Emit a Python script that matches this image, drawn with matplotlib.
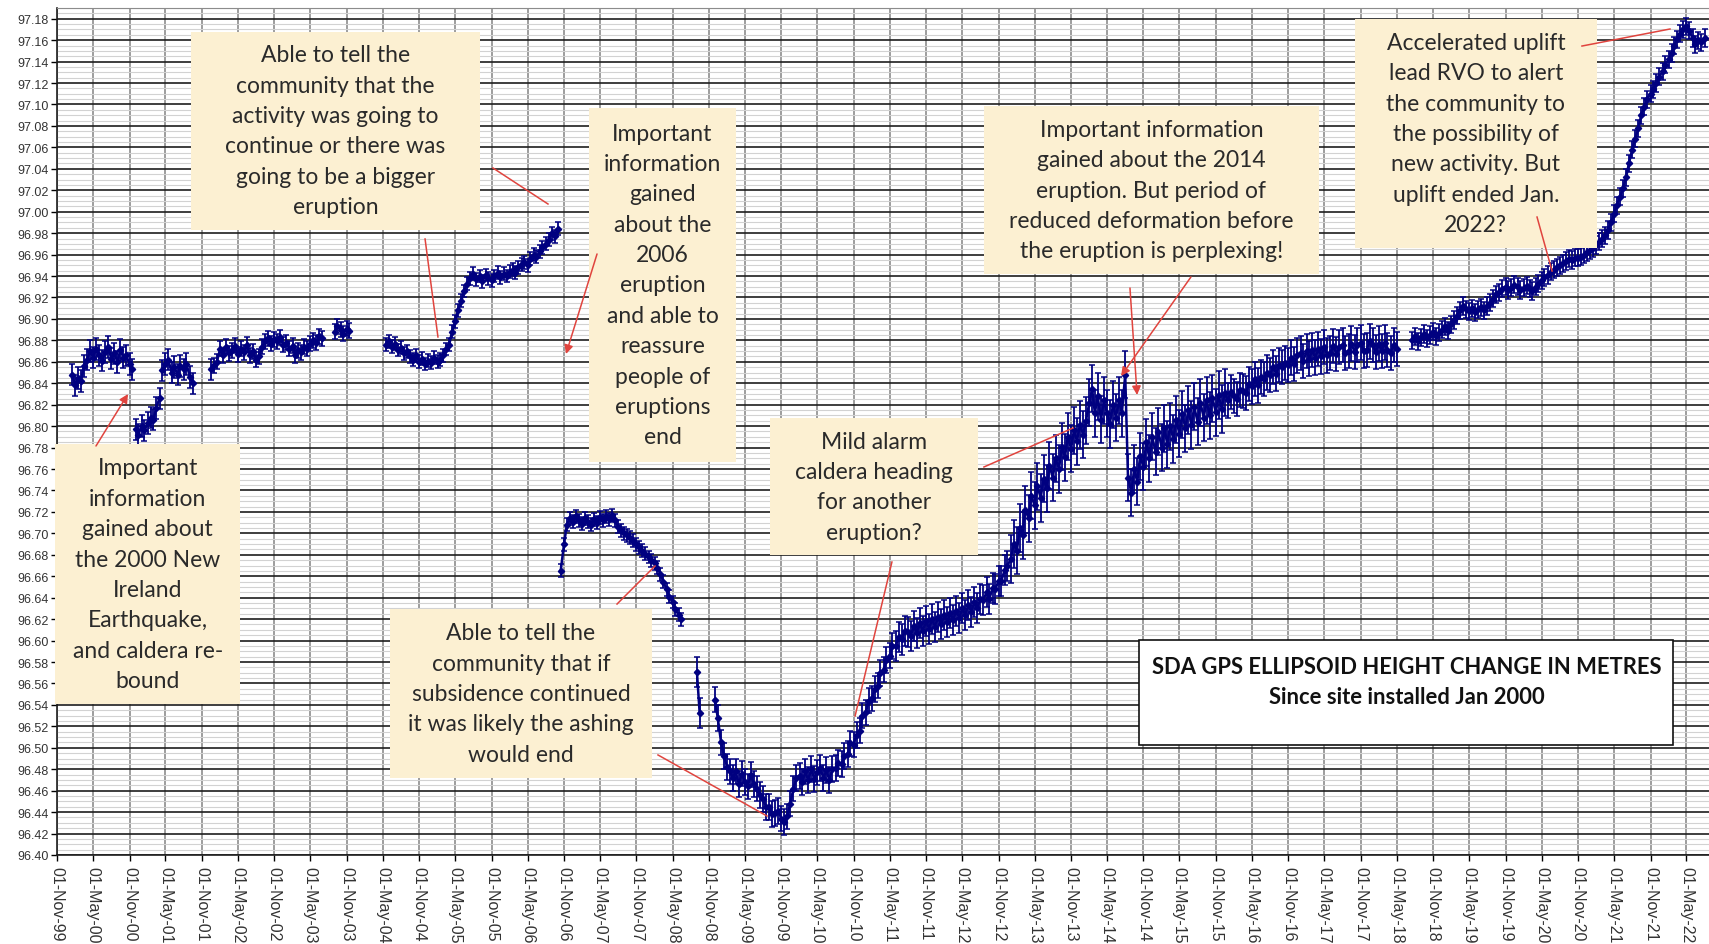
import numpy as np
import pandas as pd
import matplotlib
matplotlib.use("Agg")
import matplotlib.pyplot as plt
import matplotlib.dates as mdates
from matplotlib.patches import Rectangle
from matplotlib.ticker import MultipleLocator, FixedLocator, FormatStrFormatter

# SDA GPS ellipsoid height (m), one reading per half month (1st / 15th)
h_2000_start = "2000-01-15"
h_2000 = [96.848, 96.838, 96.845, 96.842, 96.856, 96.862, 96.870, 96.864, 96.872, 96.866,
          96.861, 96.869, 96.874, 96.863, 96.868, 96.860, 96.871, 96.864, 96.866, 96.858,
          96.853]

h_quake_start = "2000-12-01"
h_quake = [96.797, 96.792, 96.800, 96.796, 96.803, 96.808, 96.806, 96.817, 96.826]

h_2001_start = "2001-04-15"
h_2001 = [96.852, 96.858, 96.862, 96.850, 96.855, 96.848, 96.856, 96.853, 96.858, 96.846,
          96.840]

h_2002_start = "2001-12-15"
h_2002 = [96.853, 96.857, 96.860, 96.872, 96.866, 96.874, 96.868, 96.871, 96.875, 96.867,
          96.872, 96.869, 96.876, 96.866, 96.870, 96.862, 96.865, 96.874, 96.879, 96.882,
          96.877, 96.881, 96.879, 96.883, 96.876, 96.878, 96.872, 96.875, 96.866, 96.871,
          96.869, 96.874, 96.872, 96.877, 96.880, 96.878, 96.884, 96.882]

h_late2003_start = "2003-09-01"
h_late2003 = [96.888, 96.893, 96.890, 96.886, 96.891, 96.889]

h_2004_start = "2004-05-15"
h_2004 = [96.876, 96.879, 96.874, 96.877, 96.871, 96.873, 96.868, 96.870, 96.865, 96.862,
          96.866, 96.860, 96.863, 96.858, 96.861, 96.859, 96.864, 96.860, 96.862, 96.866,
          96.872, 96.876, 96.888, 96.898, 96.908, 96.917, 96.926, 96.933, 96.938, 96.942,
          96.937, 96.940, 96.935, 96.941, 96.938, 96.936, 96.940, 96.943, 96.939, 96.942,
          96.940, 96.944, 96.946, 96.943, 96.948, 96.951, 96.953, 96.950, 96.956, 96.960,
          96.958, 96.963, 96.967, 96.970, 96.974, 96.980, 96.977, 96.984]

h_2006_start = "2006-10-15"
h_2006 = [96.665, 96.690, 96.708, 96.714, 96.711, 96.716, 96.712, 96.709, 96.714, 96.711,
          96.708, 96.713, 96.710, 96.715, 96.712, 96.716, 96.713, 96.717, 96.712, 96.706,
          96.703, 96.700, 96.698, 96.696, 96.693, 96.690, 96.687, 96.684, 96.681, 96.678,
          96.675, 96.672, 96.668, 96.662, 96.655, 96.648, 96.641, 96.636, 96.629, 96.624,
          96.620]

h_sep2008_start = "2008-09-01"
h_sep2008 = [96.571, 96.532]

h_2009_start = "2008-12-01"
h_2009 = [96.545, 96.528, 96.505, 96.492, 96.482, 96.478, 96.472, 96.478, 96.466, 96.476,
          96.468, 96.464, 96.475, 96.466, 96.462, 96.456, 96.452, 96.445, 96.445, 96.438,
          96.439, 96.441, 96.434, 96.431, 96.436, 96.448, 96.462, 96.472, 96.474, 96.468,
          96.478, 96.470, 96.480, 96.471, 96.477, 96.481, 96.472, 96.479, 96.470, 96.480,
          96.481, 96.486, 96.485, 96.492, 96.494, 96.504, 96.503, 96.512, 96.516, 96.530,
          96.533, 96.544, 96.546, 96.555, 96.558, 96.570, 96.573, 96.582, 96.586, 96.595,
          96.595, 96.603, 96.601, 96.609, 96.608, 96.604, 96.614, 96.607, 96.616, 96.609,
          96.618, 96.611, 96.620, 96.613, 96.622, 96.615, 96.624, 96.617, 96.626, 96.619,
          96.628, 96.621, 96.630, 96.624, 96.633, 96.627, 96.636, 96.630, 96.639, 96.638,
          96.645, 96.639, 96.649, 96.648, 96.656, 96.656, 96.666, 96.670, 96.676, 96.690,
          96.684, 96.705, 96.698, 96.722, 96.714, 96.735, 96.726, 96.744, 96.733, 96.751,
          96.742, 96.763, 96.752, 96.770, 96.760, 96.781, 96.771, 96.790, 96.779, 96.796,
          96.786, 96.801, 96.792, 96.805, 96.822, 96.835, 96.812, 96.828, 96.806, 96.824,
          96.812, 96.802, 96.820, 96.808, 96.824, 96.812, 96.848, 96.752, 96.738, 96.760,
          96.748, 96.772, 96.762, 96.785, 96.770, 96.790, 96.776, 96.795, 96.780, 96.798,
          96.783, 96.800, 96.788, 96.806, 96.793, 96.811, 96.798, 96.815, 96.801, 96.818,
          96.804, 96.822, 96.808, 96.824, 96.810, 96.826, 96.813, 96.829, 96.816, 96.831,
          96.824, 96.832, 96.828, 96.825, 96.834, 96.833, 96.831, 96.839, 96.837, 96.844,
          96.838, 96.846, 96.844, 96.850, 96.848, 96.855, 96.849, 96.857, 96.855, 96.859,
          96.857, 96.864, 96.858, 96.866, 96.868, 96.861, 96.870, 96.863, 96.871, 96.864,
          96.872, 96.865, 96.874, 96.866, 96.868, 96.875, 96.867, 96.874, 96.876, 96.868,
          96.870, 96.877, 96.869, 96.876, 96.878, 96.870, 96.871, 96.879, 96.876, 96.869,
          96.877, 96.870, 96.878, 96.871, 96.868, 96.876, 96.872]

h_2018_start = "2018-07-15"
h_2018 = [96.880, 96.884, 96.879, 96.883, 96.886, 96.882, 96.885, 96.888, 96.884, 96.887,
          96.890, 96.893, 96.889, 96.895, 96.899, 96.903, 96.908, 96.912, 96.909, 96.907,
          96.910, 96.906, 96.909, 96.911, 96.908, 96.912, 96.915, 96.919, 96.923, 96.925,
          96.928, 96.930, 96.927, 96.929, 96.932, 96.930, 96.927, 96.929, 96.931, 96.928,
          96.926, 96.930, 96.933, 96.936, 96.939, 96.941, 96.944, 96.946, 96.948, 96.950,
          96.952, 96.954, 96.956, 96.955, 96.957, 96.957, 96.958, 96.960, 96.962, 96.964,
          96.966, 96.969, 96.972, 96.975, 96.978, 96.983, 96.990, 96.998, 97.006, 97.014,
          97.022, 97.032, 97.045, 97.058, 97.068, 97.078, 97.090, 97.098, 97.105, 97.110,
          97.114, 97.120, 97.126, 97.131, 97.137, 97.142, 97.148, 97.155, 97.161, 97.166,
          97.170, 97.173, 97.169, 97.162, 97.156, 97.160, 97.158, 97.162]

segments = [
    (h_2000_start, h_2000), (h_quake_start, h_quake), (h_2001_start, h_2001),
    (h_2002_start, h_2002), (h_late2003_start, h_late2003), (h_2004_start, h_2004),
    (h_2006_start, h_2006), (h_sep2008_start, h_sep2008), (h_2009_start, h_2009),
    (h_2018_start, h_2018),
]

# typical daily scatter (half range, m) from each date onward
err_from = ["2000-01-01", "2002-01-01", "2004-05-01", "2008-08-01", "2008-11-01",
            "2011-06-01", "2013-01-01", "2016-01-01", "2018-06-01"]
err_size = [0.010, 0.007, 0.006, 0.014, 0.012, 0.014, 0.022, 0.016, 0.008]

tick_dates = pd.date_range("1999-11-01", "2022-05-01", freq="6MS")

title_lines = ["SDA GPS ELLIPSOID HEIGHT CHANGE IN METRES", "Since site installed Jan 2000"]

# callout boxes: (text, x0, y0, x1, y1) in axes fraction
notes = [
    ("Able to tell the\ncommunity that the\nactivity was going to\ncontinue or there was\n"
     "going to be a bigger\neruption", 0.0811, 0.738, 0.2560, 0.972),
    ("Important\ninformation\ngained\nabout the\n2006\neruption\nand able to\nreassure\n"
     "people of\neruptions\nend", 0.322, 0.464, 0.411, 0.882),
    ("Important\ninformation\ngained about\nthe 2000 New\nIreland\nEarthquake,\n"
     "and caldera re-\nbound", -0.001, 0.178, 0.111, 0.485),
    ("Able to tell the\ncommunity that if\nsubsidence continued\nit was likely the ashing\n"
     "would end", 0.2016, 0.091, 0.360, 0.290),
    ("Mild alarm\ncaldera heading\nfor another\neruption?", 0.4316, 0.354, 0.5575, 0.516),
    ("Important information\ngained about the 2014\neruption. But period of\n"
     "reduced deformation before\nthe eruption is perplexing!", 0.561, 0.686, 0.764, 0.884),
    ("Accelerated uplift\nlead RVO to alert\nthe community to\nthe possibility of\n"
     "new activity. But\nuplift ended Jan.\n2022?", 0.7857, 0.717, 0.932, 0.987),
]

# pointer lines: (tail, head, arrowhead) in axes fraction
pointers = [
    ((0.0236, 0.4829), (0.0430, 0.5443), True),
    ((0.2228, 0.7273), (0.2306, 0.6116), False),
    ((0.2639, 0.8111), (0.2972, 0.7686), False),
    ((0.3269, 0.7096), (0.3081, 0.5915), True),
    ((0.3390, 0.2963), (0.3620, 0.3412), False),
    ((0.3638, 0.1181), (0.4298, 0.0460), False),
    ((0.5054, 0.3459), (0.4831, 0.1641), False),
    ((0.5611, 0.4581), (0.6150, 0.5041), False),
    ((0.6495, 0.6694), (0.6538, 0.5431), True),
    ((0.6864, 0.6824), (0.6441, 0.5655), True),
    ((0.8959, 0.7532), (0.9050, 0.6895), False),
    ((0.9231, 0.9551), (0.9764, 0.9752), False),
]

navy = "#000080"
red = "#E0443E"
note_fill = "#FCF0D2"

fig = plt.figure(figsize=(17.09, 9.45), dpi=100)
ax = fig.add_axes([57 / 1709, 89 / 945, 1652 / 1709, 847 / 945])

err_edges = pd.to_datetime(err_from)
for start, vals in segments:
    dates = pd.date_range(start, periods=len(vals), freq="SMS")
    idx = np.searchsorted(err_edges.values, dates.values, side="right") - 1
    errs = np.array(err_size)[idx]
    ax.errorbar(dates, vals, yerr=errs, fmt="-D", color=navy, ms=3.2, lw=1.8,
                elinewidth=1.3, capsize=2.2, capthick=1.1, zorder=3)

ax.set_xlim(pd.Timestamp("1999-11-01"), pd.Timestamp("2022-08-23"))
ax.set_ylim(96.40, 97.19)

ax.xaxis.set_major_locator(FixedLocator(mdates.date2num(tick_dates)))
ax.xaxis.set_major_formatter(mdates.DateFormatter("%d-%b-%y"))
ax.yaxis.set_major_locator(MultipleLocator(0.02))
ax.yaxis.set_minor_locator(MultipleLocator(0.005))
ax.yaxis.set_major_formatter(FormatStrFormatter("%.2f"))

ax.set_axisbelow(True)
ax.grid(which="major", axis="y", color="#1e1e1e", lw=1.2)
ax.grid(which="minor", axis="y", color="#d2d2d2", lw=0.8)
ax.grid(which="major", axis="x", color="#8c8c8c", lw=1.2)

ax.tick_params(which="minor", length=0)
ax.tick_params(axis="y", which="major", length=4, width=1, pad=2, labelsize=9,
               labelcolor="#333333")
ax.tick_params(axis="x", which="major", length=4, width=1, pad=4, labelsize=11.5,
               labelcolor="#333333")
for lab in ax.get_xticklabels():
    lab.set_rotation(270)
    lab.set_fontfamily("Liberation Sans")
    lab.set_va("top")
    lab.set_ha("center")
for lab in ax.get_yticklabels():
    lab.set_fontfamily("Liberation Sans")

for side in ("left", "bottom"):
    ax.spines[side].set_color("#1e1e1e")
    ax.spines[side].set_linewidth(1.2)
ax.spines["top"].set_color("#8c8c8c")
ax.spines["right"].set_visible(False)

for text, x0, y0, x1, y1 in notes:
    ax.add_patch(Rectangle((x0, y0), x1 - x0, y1 - y0, transform=ax.transAxes,
                           fc=note_fill, ec="none", zorder=4, clip_on=False))
    ax.text((x0 + x1) / 2, (y0 + y1) / 2, text, transform=ax.transAxes,
            ha="center", va="center", multialignment="center", fontsize=16.5,
            family="Lato", color="#2a2a2a", linespacing=1.55, zorder=5)

for (tx, ty), (hx, hy), head in pointers:
    if head:
        ax.annotate("", xy=(hx, hy), xytext=(tx, ty), xycoords="axes fraction",
                    arrowprops=dict(arrowstyle="-|>", color=red, lw=1.1,
                                    mutation_scale=13, shrinkA=0, shrinkB=0),
                    zorder=6)
    else:
        ax.plot([tx, hx], [ty, hy], transform=ax.transAxes, color=red, lw=1.1,
                zorder=6, clip_on=False)

ax.add_patch(Rectangle((0.655, 0.130), 0.323, 0.124, transform=ax.transAxes,
                       fc="white", ec="#111111", lw=1.2, zorder=4))
ax.text(0.817, 0.223, title_lines[0], transform=ax.transAxes, ha="center", va="center",
        fontsize=15.8, family="Lato", weight="bold", color="#111111", zorder=5)
ax.text(0.817, 0.187, title_lines[1], transform=ax.transAxes, ha="center", va="center",
        fontsize=15.8, family="Lato", weight="bold", color="#111111", zorder=5)

fig.savefig("out.png", dpi=100)
